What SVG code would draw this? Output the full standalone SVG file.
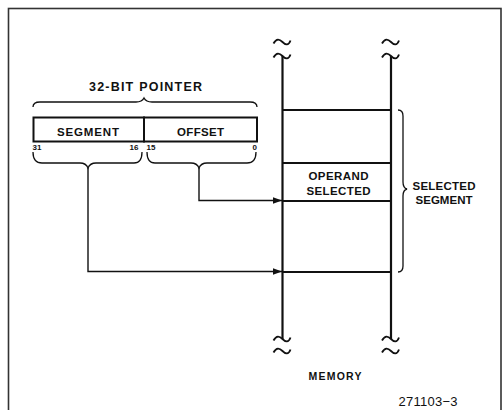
<svg xmlns="http://www.w3.org/2000/svg" width="503" height="410" viewBox="0 0 503 410">
<style>
text{font-family:"Liberation Sans",Arial,sans-serif;font-weight:bold;fill:#111}
.ln{fill:none;stroke:#111;stroke-width:1.4}
.mem{fill:none;stroke:#111;stroke-width:2.2}
.row{fill:none;stroke:#111;stroke-width:1.8}
.br{fill:none;stroke:#111;stroke-width:1.3}
</style>
<defs>
<marker id="ah" markerWidth="10" markerHeight="8" refX="9" refY="4" orient="auto" markerUnits="userSpaceOnUse">
<path d="M0,0.8 L9,4 L0,7.2 Z" fill="#111"/>
</marker>
<path id="tl" d="M-9,1.5 C-6,-4 -3,-3 0,0 C3,3 6,4 8,-1.5" fill="none" stroke="#111" stroke-width="1.8"/>
</defs>
<rect x="8.5" y="8.5" width="492.5" height="410" fill="#fff" stroke="#333" stroke-width="1.6"/>

<g id="pointer">
<path class="br" d="M33,107 Q33,102 40,102 L136,102 Q142,102 144,98 Q146,102 152,102 L250,102 Q257,102 257,107"/>
<text x="145.5" y="91" font-size="12.5" text-anchor="middle" textLength="113" lengthAdjust="spacing">32-BIT POINTER</text>
</g>
<g id="segment">
<rect x="33.5" y="117.5" width="110.5" height="24" fill="#fff" stroke="#111" stroke-width="2"/>
<text x="88" y="135.5" font-size="11.5" text-anchor="middle" textLength="62" lengthAdjust="spacing">SEGMENT</text>
<text x="32.5" y="149.5" font-size="8">31</text>
<text x="138.5" y="149.5" font-size="8" text-anchor="end">16</text>
<path class="br" d="M33,152 Q33,163 42,163 L80,163 Q86,163 88,168 Q90,163 96,163 L134,163 Q142,163 142,152"/>
</g>
<g id="offset">
<rect x="144" y="117.5" width="113" height="24" fill="#fff" stroke="#111" stroke-width="2"/>
<text x="200.5" y="135.5" font-size="11.5" text-anchor="middle" textLength="47" lengthAdjust="spacing">OFFSET</text>
<text x="146.5" y="149.5" font-size="8">15</text>
<text x="257" y="149.5" font-size="8" text-anchor="end">0</text>
<path class="br" d="M147,152 Q147,163 155,163 L191,163 Q197,163 199,168 Q201,163 207,163 L247,163 Q256,163 256,152"/>
</g>

<g id="memory">
<line class="mem" x1="282.5" y1="56" x2="282.5" y2="339"/>
<line class="mem" x1="391" y1="56" x2="391" y2="339"/>
<use href="#tl" x="282.5" y="42"/>
<use href="#tl" x="282.5" y="56"/>
<use href="#tl" x="391" y="42"/>
<use href="#tl" x="391" y="56"/>
<use href="#tl" x="282.5" y="339"/>
<use href="#tl" x="282.5" y="351"/>
<use href="#tl" x="391" y="339"/>
<use href="#tl" x="391" y="351"/>
<line class="row" x1="282.5" y1="110" x2="391" y2="110"/>
<line class="row" x1="282.5" y1="163" x2="391" y2="163"/>
<line class="row" x1="282.5" y1="201" x2="391" y2="201"/>
<line class="row" x1="282.5" y1="272" x2="391" y2="272"/>
<text x="335" y="380" font-size="10.5" text-anchor="middle" textLength="53" lengthAdjust="spacing">MEMORY</text>
</g>
<g id="operand">
<text x="338.5" y="179.5" font-size="11.5" text-anchor="middle" textLength="60" lengthAdjust="spacing">OPERAND</text>
<text x="338.5" y="194.5" font-size="11.5" text-anchor="middle" textLength="64" lengthAdjust="spacing">SELECTED</text>
</g>
<g id="selected-segment">
<path class="br" d="M398,110 Q403,110 403,116 L403,182 Q403,188 407,189 Q403,190 403,196 L403,266 Q403,272 398,272"/>
<text x="444" y="190" font-size="11.5" text-anchor="middle" textLength="63" lengthAdjust="spacing">SELECTED</text>
<text x="444" y="203.5" font-size="11.5" text-anchor="middle" textLength="57" lengthAdjust="spacing">SEGMENT</text>
</g>

<g id="connectors">
<path class="ln" d="M199,168 L199,200.5 L282,200.5" marker-end="url(#ah)"/>
<path class="ln" d="M88,168 L88,271.5 L282,271.5" marker-end="url(#ah)"/>
</g>

<text x="428" y="406" font-size="13" text-anchor="middle" textLength="59" lengthAdjust="spacing" style="font-weight:normal">271103−3</text>
</svg>
